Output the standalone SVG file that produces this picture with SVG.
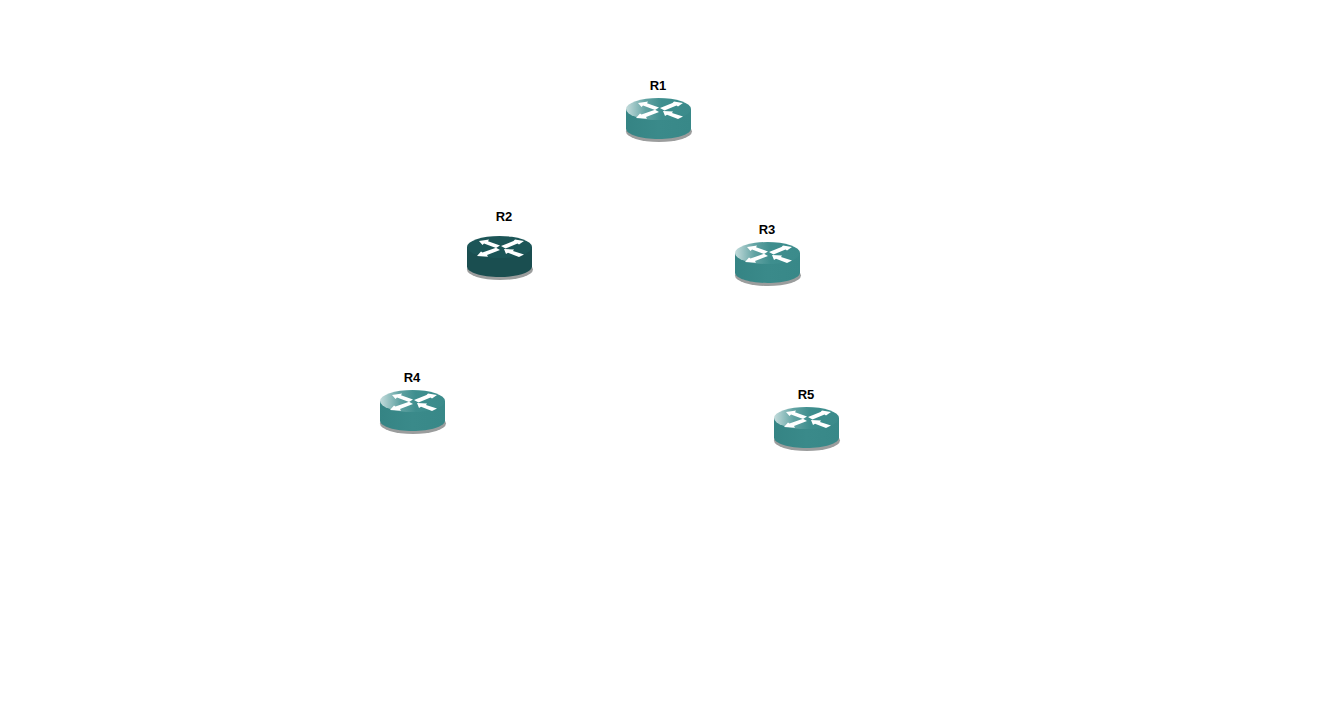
<svg xmlns="http://www.w3.org/2000/svg" width="1324" height="706" viewBox="0 0 1324 706">
<style>
text{font-family:"Liberation Sans",Arial,sans-serif;font-size:13px;font-weight:700;fill:#000;text-anchor:middle}
.shadow{fill:#9b9d9d}
.ar{fill:#fff}
</style>
<defs>
<linearGradient id="topLight" x1="0" y1="0" x2="1" y2="0"><stop offset="0" stop-color="#c4dcdc"/><stop offset=".3" stop-color="#62a3a3"/><stop offset=".55" stop-color="#3e8e8e"/><stop offset="1" stop-color="#3b8b8b"/></linearGradient>
<linearGradient id="bodyLight" x1="0" y1="0" x2="1" y2="0"><stop offset="0" stop-color="#358484"/><stop offset=".5" stop-color="#3a8a8a"/><stop offset="1" stop-color="#388888"/></linearGradient>
<g id="arrows">
<polygon class="ar" points="12,5 22,3.5 21,5.2 33,9.5 29,12 17,7.5 15.5,9"/>
<polygon class="ar" points="48,3.5 57,5 52,8.5 50.5,7.5 38.5,12.5 34,10 46.500,5"/>
<polygon class="ar" points="10,20 14,15.500 15.500,16.500 29,11.800 33,14 20,19 21,20.800"/>
<polygon class="ar" points="37,13 47,13.500 46,15 57,18.500 52,21 41,16.800 39,18"/>
</g>
<g id="router">
<ellipse class="shadow" cx="33" cy="33.500" rx="33" ry="10.500"/>
<path d="M0 11V30.500C0 36.500 14.800 41 32.500 41S65 36.500 65 30.500V11Z" fill="url(#bodyLight)"/>
<ellipse cx="32.500" cy="11" rx="32.500" ry="11" fill="url(#topLight)"/>
<use href="#arrows"/>
</g>
<g id="routerDark">
<ellipse class="shadow" cx="33" cy="33.500" rx="33" ry="10.500"/>
<path d="M0 11V30.500C0 36.500 14.800 41 32.500 41S65 36.500 65 30.500V11Z" fill="#1a4e50"/>
<ellipse cx="32.500" cy="11" rx="32.500" ry="11" fill="#1c5557"/>
<use href="#arrows"/>
</g>
</defs>
<rect width="1324" height="706" fill="#fff"/>
<g id="connectors"/>
<g id="R1"><text x="658" y="90">R1</text><use href="#router" x="626" y="98"/></g>
<g id="R2"><text x="504" y="221">R2</text><use href="#routerDark" x="467" y="236"/></g>
<g id="R3"><text x="767" y="234">R3</text><use href="#router" x="735" y="242"/></g>
<g id="R4"><text x="412" y="382">R4</text><use href="#router" x="380" y="390"/></g>
<g id="R5"><text x="806" y="399">R5</text><use href="#router" x="774" y="407"/></g>
</svg>
